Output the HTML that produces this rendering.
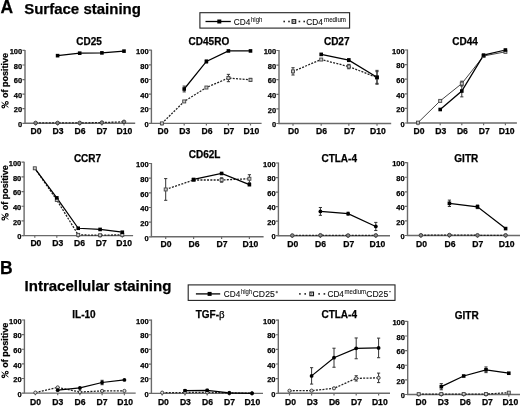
<!DOCTYPE html>
<html><head><meta charset="utf-8"><style>
html,body{margin:0;padding:0;background:#fff;width:520px;height:406px;overflow:hidden}
svg{display:block;filter:blur(0.35px)}
text{font-family:"Liberation Sans", sans-serif;fill:#000;stroke:#000;stroke-width:0.25px}
.yt{font-size:7.5px;font-weight:bold;text-anchor:end}
.xt{font-size:8.6px;font-weight:bold;text-anchor:middle}
.tt{font-size:10px;font-weight:bold;text-anchor:middle}
.yl{font-size:9px;font-weight:bold;text-anchor:middle}
.hd{font-size:17.5px;font-weight:bold}
.sh{font-size:15px;font-weight:bold}
.lg{fill:#111;stroke-width:0.12px}
.lg.s{stroke-width:0.08px}
.sup{font-size:6px}
</style></head><body>
<svg width="520" height="406" viewBox="0 0 520 406">
<text x="0.4" y="13.4" class="hd">A</text>
<text x="24.2" y="14.4" class="sh">Surface staining</text>
<text x="0" y="273.5" class="hd">B</text>
<text x="24.6" y="291" class="sh">Intracellular staining</text>
<path d="M25 49.9V123.3M24.2 123.3H135.2" stroke="#6a6a6a" stroke-width="1.4" fill="none"/>
<text x="22.2" y="127" class="yt">0</text>
<text x="22.2" y="112.42" class="yt">20</text>
<text x="22.2" y="97.84" class="yt">40</text>
<text x="22.2" y="83.26" class="yt">60</text>
<text x="22.2" y="68.68" class="yt">80</text>
<text x="22.2" y="54.1" class="yt">100</text>
<text x="36" y="134" class="xt">D0</text>
<text x="58.1" y="134" class="xt">D3</text>
<text x="80.1" y="134" class="xt">D6</text>
<text x="101.9" y="134" class="xt">D7</text>
<text x="124.5" y="134" class="xt">D10</text>
<path d="M22.4 123.3H25M22.4 108.72H25M22.4 94.14H25M22.4 79.56H25M22.4 64.98H25M22.4 50.4H25M35.6 123.3V125.5M57.6 123.3V125.5M79.7 123.3V125.5M101.9 123.3V125.5M124 123.3V125.5" stroke="#6a6a6a" stroke-width="1.2" fill="none"/>
<text x="89.1" y="44.6" class="tt">CD25</text>
<g transform="translate(8.2 80.85) rotate(-90)">
<text x="-17.26" y="0" class="yl" style="text-anchor:start">of positive</text>
<path d="M-26.46 0.2L-21.46 -6.6" stroke="#000" stroke-width="0.9" fill="none"/>
<circle cx="-25.76" cy="-4.9" r="1.35" stroke="#000" stroke-width="1.1" fill="none"/>
<circle cx="-22.06" cy="-1.45" r="1.35" stroke="#000" stroke-width="1.1" fill="none"/>
</g>
<polyline points="35.6,122.94 57.6,122.94 79.7,122.94 101.9,122.57 124,121.84" fill="none" stroke="#222" stroke-width="1.3" stroke-dasharray="2 1.3"/>
<polyline points="57.6,55.65 79.7,53.17 101.9,52.88 124,51.13" fill="none" stroke="#000" stroke-width="1.25"/>
<circle cx="35.6" cy="122.94" r="1.8" fill="#888" stroke="#333" stroke-width="0.9"/>
<circle cx="57.6" cy="122.94" r="1.8" fill="#888" stroke="#333" stroke-width="0.9"/>
<circle cx="79.7" cy="122.94" r="1.8" fill="#888" stroke="#333" stroke-width="0.9"/>
<circle cx="101.9" cy="122.57" r="1.8" fill="#888" stroke="#333" stroke-width="0.9"/>
<circle cx="124" cy="121.84" r="1.8" fill="#888" stroke="#333" stroke-width="0.9"/>
<rect x="55.8" y="53.85" width="3.6" height="3.6" fill="#000"/>
<rect x="77.9" y="51.37" width="3.6" height="3.6" fill="#000"/>
<rect x="100.1" y="51.08" width="3.6" height="3.6" fill="#000"/>
<rect x="122.2" y="49.33" width="3.6" height="3.6" fill="#000"/>
<path d="M151.4 49.7V123.4M150.6 123.4H261.6" stroke="#6a6a6a" stroke-width="1.4" fill="none"/>
<text x="148.6" y="127.1" class="yt">0</text>
<text x="148.6" y="112.46" class="yt">20</text>
<text x="148.6" y="97.82" class="yt">40</text>
<text x="148.6" y="83.18" class="yt">60</text>
<text x="148.6" y="68.54" class="yt">80</text>
<text x="148.6" y="53.9" class="yt">100</text>
<text x="163" y="134" class="xt">D0</text>
<text x="184.7" y="134" class="xt">D3</text>
<text x="207" y="134" class="xt">D6</text>
<text x="228.9" y="134" class="xt">D7</text>
<text x="251.5" y="134" class="xt">D10</text>
<path d="M148.8 123.4H151.4M148.8 108.76H151.4M148.8 94.12H151.4M148.8 79.48H151.4M148.8 64.84H151.4M148.8 50.2H151.4M161.9 123.4V125.6M184.2 123.4V125.6M206.4 123.4V125.6M228.4 123.4V125.6M250.5 123.4V125.6" stroke="#6a6a6a" stroke-width="1.2" fill="none"/>
<text x="208.9" y="45.3" class="tt">CD45RO</text>
<polyline points="161.9,123.4 184.2,101.44 206.4,87.53 228.4,78.02 250.5,79.85" fill="none" stroke="#222" stroke-width="1.3" stroke-dasharray="2 1.3"/>
<polyline points="184.2,89 206.4,61.47 228.4,50.93 250.5,50.93" fill="none" stroke="#000" stroke-width="1.25"/>
<path d="M228.4 74.36V81.68M226.8 74.36H230M226.8 81.68H230M250.5 78.38V81.31M248.9 78.38H252.1M248.9 81.31H252.1M184.2 86.07V91.92M182.6 86.07H185.8M182.6 91.92H185.8M206.4 60.01V62.94M204.8 60.01H208M204.8 62.94H208" stroke="#333" stroke-width="1" fill="none"/>
<rect x="160.4" y="121.9" width="3" height="3" fill="#ccc" stroke="#444" stroke-width="0.9"/>
<rect x="182.7" y="99.94" width="3" height="3" fill="#ccc" stroke="#444" stroke-width="0.9"/>
<rect x="204.9" y="86.03" width="3" height="3" fill="#ccc" stroke="#444" stroke-width="0.9"/>
<rect x="226.9" y="76.52" width="3" height="3" fill="#ccc" stroke="#444" stroke-width="0.9"/>
<rect x="249" y="78.35" width="3" height="3" fill="#ccc" stroke="#444" stroke-width="0.9"/>
<rect x="182.4" y="87.2" width="3.6" height="3.6" fill="#000"/>
<rect x="204.6" y="59.67" width="3.6" height="3.6" fill="#000"/>
<rect x="226.6" y="49.13" width="3.6" height="3.6" fill="#000"/>
<rect x="248.7" y="49.13" width="3.6" height="3.6" fill="#000"/>
<path d="M279 50V123.5M278.2 123.5H391.2" stroke="#6a6a6a" stroke-width="1.4" fill="none"/>
<text x="276.2" y="127.2" class="yt">0</text>
<text x="276.2" y="112.6" class="yt">20</text>
<text x="276.2" y="98" class="yt">40</text>
<text x="276.2" y="83.4" class="yt">60</text>
<text x="276.2" y="68.8" class="yt">80</text>
<text x="276.2" y="54.2" class="yt">100</text>
<text x="293.5" y="134" class="xt">D0</text>
<text x="321.6" y="134" class="xt">D6</text>
<text x="349.5" y="134" class="xt">D7</text>
<text x="378" y="134" class="xt">D10</text>
<path d="M276.4 123.5H279M276.4 108.9H279M276.4 94.3H279M276.4 79.7H279M276.4 65.1H279M276.4 50.5H279M293 123.5V125.7M321.2 123.5V125.7M348.8 123.5V125.7M377 123.5V125.7" stroke="#6a6a6a" stroke-width="1.2" fill="none"/>
<text x="336.7" y="45.3" class="tt">CD27</text>
<polyline points="293,71.38 321.2,59.55 348.8,66.56 377,77.51" fill="none" stroke="#222" stroke-width="1.3" stroke-dasharray="2 1.3"/>
<polyline points="321.2,54.37 348.8,60.14 377,77.29" fill="none" stroke="#000" stroke-width="1.25"/>
<path d="M293 67.73V75.03M291.4 67.73H294.6M291.4 75.03H294.6M348.8 64.37V68.75M347.2 64.37H350.4M347.2 68.75H350.4M377 71.67V83.35M375.4 71.67H378.6M375.4 83.35H378.6M348.8 58.68V61.6M347.2 58.68H350.4M347.2 61.6H350.4M377 70.36V84.23M375.4 70.36H378.6M375.4 84.23H378.6" stroke="#333" stroke-width="1" fill="none"/>
<rect x="291.5" y="69.88" width="3" height="3" fill="#ccc" stroke="#444" stroke-width="0.9"/>
<rect x="319.7" y="58.05" width="3" height="3" fill="#ccc" stroke="#444" stroke-width="0.9"/>
<rect x="347.3" y="65.06" width="3" height="3" fill="#ccc" stroke="#444" stroke-width="0.9"/>
<rect x="375.5" y="76.01" width="3" height="3" fill="#ccc" stroke="#444" stroke-width="0.9"/>
<rect x="319.4" y="52.57" width="3.6" height="3.6" fill="#000"/>
<rect x="347" y="58.34" width="3.6" height="3.6" fill="#000"/>
<rect x="375.2" y="75.49" width="3.6" height="3.6" fill="#000"/>
<path d="M407.4 49.5V123M406.6 123H516.9" stroke="#6a6a6a" stroke-width="1.4" fill="none"/>
<text x="404.6" y="126.7" class="yt">0</text>
<text x="404.6" y="112.1" class="yt">20</text>
<text x="404.6" y="97.5" class="yt">40</text>
<text x="404.6" y="82.9" class="yt">60</text>
<text x="404.6" y="68.3" class="yt">80</text>
<text x="404.6" y="53.7" class="yt">100</text>
<text x="419.1" y="134" class="xt">D0</text>
<text x="440.7" y="134" class="xt">D3</text>
<text x="462.4" y="134" class="xt">D6</text>
<text x="484.3" y="134" class="xt">D7</text>
<text x="506.7" y="134" class="xt">D10</text>
<path d="M404.8 123H407.4M404.8 108.4H407.4M404.8 93.8H407.4M404.8 79.2H407.4M404.8 64.6H407.4M404.8 50H407.4M418 123V125.2M440.2 123V125.2M461.8 123V125.2M483.6 123V125.2M505.4 123V125.2" stroke="#6a6a6a" stroke-width="1.2" fill="none"/>
<text x="465" y="45.3" class="tt">CD44</text>
<polyline points="418,122.64 440.2,100.88 461.8,83.58 483.6,55.99 505.4,51.83" fill="none" stroke="#444" stroke-width="1"/>
<polyline points="440.2,109.5 461.8,91.03 483.6,55.11 505.4,50" fill="none" stroke="#000" stroke-width="1.25"/>
<path d="M461.8 81.17V85.99M460.2 81.17H463.4M460.2 85.99H463.4M461.8 85.19V96.87M460.2 85.19H463.4M460.2 96.87H463.4" stroke="#333" stroke-width="1" fill="none"/>
<rect x="416.5" y="121.14" width="3" height="3" fill="#ccc" stroke="#444" stroke-width="0.9"/>
<rect x="438.7" y="99.38" width="3" height="3" fill="#ccc" stroke="#444" stroke-width="0.9"/>
<rect x="460.3" y="82.08" width="3" height="3" fill="#ccc" stroke="#444" stroke-width="0.9"/>
<rect x="482.1" y="54.49" width="3" height="3" fill="#ccc" stroke="#444" stroke-width="0.9"/>
<rect x="503.9" y="50.33" width="3" height="3" fill="#ccc" stroke="#444" stroke-width="0.9"/>
<rect x="438.4" y="107.7" width="3.6" height="3.6" fill="#000"/>
<rect x="460" y="89.23" width="3.6" height="3.6" fill="#000"/>
<rect x="481.8" y="53.31" width="3.6" height="3.6" fill="#000"/>
<rect x="503.6" y="48.2" width="3.6" height="3.6" fill="#000"/>
<path d="M24.1 161.7V235.6M23.3 235.6H133.1" stroke="#6a6a6a" stroke-width="1.4" fill="none"/>
<text x="21.3" y="239.3" class="yt">0</text>
<text x="21.3" y="224.62" class="yt">20</text>
<text x="21.3" y="209.94" class="yt">40</text>
<text x="21.3" y="195.26" class="yt">60</text>
<text x="21.3" y="180.58" class="yt">80</text>
<text x="21.3" y="165.9" class="yt">100</text>
<text x="35.9" y="246.4" class="xt">D0</text>
<text x="57.8" y="246.4" class="xt">D3</text>
<text x="79.6" y="246.4" class="xt">D6</text>
<text x="101.3" y="246.4" class="xt">D7</text>
<text x="124.1" y="246.4" class="xt">D10</text>
<path d="M21.5 235.6H24.1M21.5 220.92H24.1M21.5 206.24H24.1M21.5 191.56H24.1M21.5 176.88H24.1M21.5 162.2H24.1M34.8 235.6V237.8M56.8 235.6V237.8M78.2 235.6V237.8M100.1 235.6V237.8M122.3 235.6V237.8" stroke="#6a6a6a" stroke-width="1.2" fill="none"/>
<text x="87.5" y="161.7" class="tt">CCR7</text>
<g transform="translate(8.2 192.9) rotate(-90)">
<text x="-17.26" y="0" class="yl" style="text-anchor:start">of positive</text>
<path d="M-26.46 0.2L-21.46 -6.6" stroke="#000" stroke-width="0.9" fill="none"/>
<circle cx="-25.76" cy="-4.9" r="1.35" stroke="#000" stroke-width="1.1" fill="none"/>
<circle cx="-22.06" cy="-1.45" r="1.35" stroke="#000" stroke-width="1.1" fill="none"/>
</g>
<polyline points="34.8,168.29 56.8,199.93 78.2,234.87 100.1,235.23 122.3,234.87" fill="none" stroke="#222" stroke-width="1.3" stroke-dasharray="2 1.3"/>
<polyline points="34.8,168.29 56.8,197.87 78.2,228.26 100.1,229.43 122.3,232.22" fill="none" stroke="#000" stroke-width="1.25"/>
<rect x="33.3" y="166.79" width="3" height="3" fill="#ccc" stroke="#444" stroke-width="0.9"/>
<rect x="55.3" y="198.43" width="3" height="3" fill="#ccc" stroke="#444" stroke-width="0.9"/>
<rect x="76.7" y="233.37" width="3" height="3" fill="#ccc" stroke="#444" stroke-width="0.9"/>
<rect x="98.6" y="233.73" width="3" height="3" fill="#ccc" stroke="#444" stroke-width="0.9"/>
<rect x="120.8" y="233.37" width="3" height="3" fill="#ccc" stroke="#444" stroke-width="0.9"/>
<rect x="55" y="196.07" width="3.6" height="3.6" fill="#000"/>
<rect x="76.4" y="226.46" width="3.6" height="3.6" fill="#000"/>
<rect x="98.3" y="227.63" width="3.6" height="3.6" fill="#000"/>
<rect x="120.5" y="230.42" width="3.6" height="3.6" fill="#000"/>
<path d="M151.4 163V236.8M150.6 236.8H263.6" stroke="#6a6a6a" stroke-width="1.4" fill="none"/>
<text x="148.6" y="240.5" class="yt">0</text>
<text x="148.6" y="225.84" class="yt">20</text>
<text x="148.6" y="211.18" class="yt">40</text>
<text x="148.6" y="196.52" class="yt">60</text>
<text x="148.6" y="181.86" class="yt">80</text>
<text x="148.6" y="167.2" class="yt">100</text>
<text x="166" y="247.2" class="xt">D0</text>
<text x="194.1" y="247.2" class="xt">D6</text>
<text x="222.1" y="247.2" class="xt">D7</text>
<text x="250.4" y="247.2" class="xt">D10</text>
<path d="M148.8 236.8H151.4M148.8 222.14H151.4M148.8 207.48H151.4M148.8 192.82H151.4M148.8 178.16H151.4M148.8 163.5H151.4M165.7 236.8V239M193.6 236.8V239M221.6 236.8V239M249.4 236.8V239" stroke="#6a6a6a" stroke-width="1.2" fill="none"/>
<text x="204.6" y="158.3" class="tt">CD62L</text>
<polyline points="165.7,189.45 193.6,179.99 221.6,179.99 249.4,178.75" fill="none" stroke="#222" stroke-width="1.3" stroke-dasharray="2 1.3"/>
<polyline points="193.6,179.48 221.6,173.47 249.4,184.68" fill="none" stroke="#000" stroke-width="1.25"/>
<path d="M165.7 178.6V200.3M164.1 178.6H167.3M164.1 200.3H167.3M221.6 177.79V182.19M220 177.79H223.2M220 182.19H223.2M249.4 174.71V182.78M247.8 174.71H251M247.8 182.78H251" stroke="#333" stroke-width="1" fill="none"/>
<rect x="164.2" y="187.95" width="3" height="3" fill="#ccc" stroke="#444" stroke-width="0.9"/>
<rect x="192.1" y="178.49" width="3" height="3" fill="#ccc" stroke="#444" stroke-width="0.9"/>
<rect x="220.1" y="178.49" width="3" height="3" fill="#ccc" stroke="#444" stroke-width="0.9"/>
<rect x="247.9" y="177.25" width="3" height="3" fill="#ccc" stroke="#444" stroke-width="0.9"/>
<rect x="191.8" y="177.68" width="3.6" height="3.6" fill="#000"/>
<rect x="219.8" y="171.67" width="3.6" height="3.6" fill="#000"/>
<rect x="247.6" y="182.88" width="3.6" height="3.6" fill="#000"/>
<path d="M278.4 162.5V235.7M277.6 235.7H390" stroke="#6a6a6a" stroke-width="1.4" fill="none"/>
<text x="275.6" y="239.4" class="yt">0</text>
<text x="275.6" y="224.86" class="yt">20</text>
<text x="275.6" y="210.32" class="yt">40</text>
<text x="275.6" y="195.78" class="yt">60</text>
<text x="275.6" y="181.24" class="yt">80</text>
<text x="275.6" y="166.7" class="yt">100</text>
<text x="292.7" y="246.6" class="xt">D0</text>
<text x="320.6" y="246.6" class="xt">D6</text>
<text x="348.8" y="246.6" class="xt">D7</text>
<text x="377.4" y="246.6" class="xt">D10</text>
<path d="M275.8 235.7H278.4M275.8 221.16H278.4M275.8 206.62H278.4M275.8 192.08H278.4M275.8 177.54H278.4M275.8 163H278.4M292.3 235.7V237.9M320.4 235.7V237.9M348.1 235.7V237.9M375.8 235.7V237.9" stroke="#6a6a6a" stroke-width="1.2" fill="none"/>
<text x="339.2" y="161.7" class="tt">CTLA-4</text>
<polyline points="292.3,235.48 320.4,235.26 348.1,235.48 375.8,235.34" fill="none" stroke="#222" stroke-width="1.3" stroke-dasharray="2 1.3"/>
<polyline points="320.4,211.42 348.1,213.67 375.8,226.47" fill="none" stroke="#000" stroke-width="1.25"/>
<path d="M320.4 207.49V215.34M318.8 207.49H322M318.8 215.34H322M348.1 212.22V215.13M346.5 212.22H349.7M346.5 215.13H349.7M375.8 222.4V230.54M374.2 222.4H377.4M374.2 230.54H377.4" stroke="#333" stroke-width="1" fill="none"/>
<circle cx="292.3" cy="235.48" r="1.8" fill="#888" stroke="#333" stroke-width="0.9"/>
<circle cx="320.4" cy="235.26" r="1.8" fill="#888" stroke="#333" stroke-width="0.9"/>
<circle cx="348.1" cy="235.48" r="1.8" fill="#888" stroke="#333" stroke-width="0.9"/>
<circle cx="375.8" cy="235.34" r="1.8" fill="#888" stroke="#333" stroke-width="0.9"/>
<circle cx="320.4" cy="211.42" r="1.9" fill="#000"/>
<circle cx="348.1" cy="213.67" r="1.9" fill="#000"/>
<circle cx="375.8" cy="226.47" r="1.9" fill="#000"/>
<path d="M407.5 162.2V235.5M406.7 235.5H520" stroke="#6a6a6a" stroke-width="1.4" fill="none"/>
<text x="404.7" y="239.2" class="yt">0</text>
<text x="404.7" y="224.64" class="yt">20</text>
<text x="404.7" y="210.08" class="yt">40</text>
<text x="404.7" y="195.52" class="yt">60</text>
<text x="404.7" y="180.96" class="yt">80</text>
<text x="404.7" y="166.4" class="yt">100</text>
<text x="421.5" y="246.8" class="xt">D0</text>
<text x="450.1" y="246.8" class="xt">D6</text>
<text x="477.7" y="246.8" class="xt">D7</text>
<text x="506.7" y="246.8" class="xt">D10</text>
<path d="M404.9 235.5H407.5M404.9 220.94H407.5M404.9 206.38H407.5M404.9 191.82H407.5M404.9 177.26H407.5M404.9 162.7H407.5M420.9 235.5V237.7M449.4 235.5V237.7M477.5 235.5V237.7M505.6 235.5V237.7" stroke="#6a6a6a" stroke-width="1.2" fill="none"/>
<text x="466.3" y="161.7" class="tt">GITR</text>
<polyline points="420.9,235.28 449.4,235.06 477.5,235.28 505.6,235.28" fill="none" stroke="#222" stroke-width="1.3" stroke-dasharray="2 1.3"/>
<polyline points="449.4,203.32 477.5,206.82 505.6,228.58" fill="none" stroke="#000" stroke-width="1.25"/>
<path d="M449.4 200.12V206.53M447.8 200.12H451M447.8 206.53H451M477.5 205V208.64M475.9 205H479.1M475.9 208.64H479.1" stroke="#333" stroke-width="1" fill="none"/>
<circle cx="420.9" cy="235.28" r="1.8" fill="#888" stroke="#333" stroke-width="0.9"/>
<circle cx="449.4" cy="235.06" r="1.8" fill="#888" stroke="#333" stroke-width="0.9"/>
<circle cx="477.5" cy="235.28" r="1.8" fill="#888" stroke="#333" stroke-width="0.9"/>
<circle cx="505.6" cy="235.28" r="1.8" fill="#888" stroke="#333" stroke-width="0.9"/>
<rect x="447.6" y="201.52" width="3.6" height="3.6" fill="#000"/>
<rect x="475.7" y="205.02" width="3.6" height="3.6" fill="#000"/>
<rect x="503.8" y="226.78" width="3.6" height="3.6" fill="#000"/>
<path d="M24.4 319.5V393.1M23.6 393.1H135.7" stroke="#6a6a6a" stroke-width="1.4" fill="none"/>
<text x="21.6" y="396.8" class="yt">0</text>
<text x="21.6" y="382.18" class="yt">20</text>
<text x="21.6" y="367.56" class="yt">40</text>
<text x="21.6" y="352.94" class="yt">60</text>
<text x="21.6" y="338.32" class="yt">80</text>
<text x="21.6" y="323.7" class="yt">100</text>
<text x="35.6" y="404.8" class="xt">D0</text>
<text x="57.7" y="404.8" class="xt">D3</text>
<text x="80.1" y="404.8" class="xt">D6</text>
<text x="102" y="404.8" class="xt">D7</text>
<text x="125.2" y="404.8" class="xt">D10</text>
<path d="M21.8 393.1H24.4M21.8 378.48H24.4M21.8 363.86H24.4M21.8 349.24H24.4M21.8 334.62H24.4M21.8 320H24.4M35.4 393.1V395.3M57.7 393.1V395.3M79.9 393.1V395.3M102.1 393.1V395.3M124.4 393.1V395.3" stroke="#6a6a6a" stroke-width="1.2" fill="none"/>
<text x="84" y="318.3" class="tt">IL-10</text>
<g transform="translate(8.2 350.55) rotate(-90)">
<text x="-17.26" y="0" class="yl" style="text-anchor:start">of positive</text>
<path d="M-26.46 0.2L-21.46 -6.6" stroke="#000" stroke-width="0.9" fill="none"/>
<circle cx="-25.76" cy="-4.9" r="1.35" stroke="#000" stroke-width="1.1" fill="none"/>
<circle cx="-22.06" cy="-1.45" r="1.35" stroke="#000" stroke-width="1.1" fill="none"/>
</g>
<polyline points="35.4,392.59 57.7,387.4 79.9,392 102.1,390.91 124.4,390.91" fill="none" stroke="#222" stroke-width="1.3" stroke-dasharray="2 1.3"/>
<polyline points="57.7,390.18 79.9,387.98 102.1,382.5 124.4,379.94" fill="none" stroke="#000" stroke-width="1.25"/>
<path d="M102.1 380.31V384.69M100.5 380.31H103.7M100.5 384.69H103.7" stroke="#333" stroke-width="1" fill="none"/>
<circle cx="35.4" cy="392.59" r="1.6" fill="#ddd" stroke="#333" stroke-width="0.9"/>
<circle cx="57.7" cy="387.4" r="1.6" fill="#ddd" stroke="#333" stroke-width="0.9"/>
<circle cx="79.9" cy="392" r="1.6" fill="#ddd" stroke="#333" stroke-width="0.9"/>
<circle cx="102.1" cy="390.91" r="1.6" fill="#ddd" stroke="#333" stroke-width="0.9"/>
<circle cx="124.4" cy="390.91" r="1.6" fill="#ddd" stroke="#333" stroke-width="0.9"/>
<circle cx="57.7" cy="390.18" r="1.9" fill="#000"/>
<circle cx="79.9" cy="387.98" r="1.9" fill="#000"/>
<circle cx="102.1" cy="382.5" r="1.9" fill="#000"/>
<circle cx="124.4" cy="379.94" r="1.9" fill="#000"/>
<path d="M151.4 319.6V393.4M150.6 393.4H263" stroke="#6a6a6a" stroke-width="1.4" fill="none"/>
<text x="148.6" y="397.1" class="yt">0</text>
<text x="148.6" y="382.44" class="yt">20</text>
<text x="148.6" y="367.78" class="yt">40</text>
<text x="148.6" y="353.12" class="yt">60</text>
<text x="148.6" y="338.46" class="yt">80</text>
<text x="148.6" y="323.8" class="yt">100</text>
<text x="163.4" y="404.8" class="xt">D0</text>
<text x="185.4" y="404.8" class="xt">D3</text>
<text x="207.5" y="404.8" class="xt">D6</text>
<text x="229.6" y="404.8" class="xt">D7</text>
<text x="252.3" y="404.8" class="xt">D10</text>
<path d="M148.8 393.4H151.4M148.8 378.74H151.4M148.8 364.08H151.4M148.8 349.42H151.4M148.8 334.76H151.4M148.8 320.1H151.4M162.2 393.4V395.6M185 393.4V395.6M207.2 393.4V395.6M229.3 393.4V395.6M252 393.4V395.6" stroke="#6a6a6a" stroke-width="1.2" fill="none"/>
<text x="210.2" y="318.3" class="tt">TGF-<tspan font-family="Liberation Serif" font-weight="normal" font-size="11">β</tspan></text>
<polyline points="162.2,392.67 185,392.52 207.2,392.37 229.3,392.96 252,393.18" fill="none" stroke="#222" stroke-width="1.3" stroke-dasharray="2 1.3"/>
<polyline points="185,390.61 207.2,390.32 229.3,392.96 252,393.33" fill="none" stroke="#000" stroke-width="1.25"/>
<path d="M185 389.52V391.71M183.4 389.52H186.6M183.4 391.71H186.6M207.2 389.22V391.42M205.6 389.22H208.8M205.6 391.42H208.8" stroke="#333" stroke-width="1" fill="none"/>
<circle cx="162.2" cy="392.67" r="1.6" fill="#ddd" stroke="#333" stroke-width="0.9"/>
<circle cx="185" cy="392.52" r="1.6" fill="#ddd" stroke="#333" stroke-width="0.9"/>
<circle cx="207.2" cy="392.37" r="1.6" fill="#ddd" stroke="#333" stroke-width="0.9"/>
<circle cx="229.3" cy="392.96" r="1.6" fill="#ddd" stroke="#333" stroke-width="0.9"/>
<circle cx="252" cy="393.18" r="1.6" fill="#ddd" stroke="#333" stroke-width="0.9"/>
<circle cx="185" cy="390.61" r="1.9" fill="#000"/>
<circle cx="207.2" cy="390.32" r="1.9" fill="#000"/>
<circle cx="229.3" cy="392.96" r="1.9" fill="#000"/>
<circle cx="252" cy="393.33" r="1.9" fill="#000"/>
<path d="M278.3 319.6V393.3M277.5 393.3H390" stroke="#6a6a6a" stroke-width="1.4" fill="none"/>
<text x="275.5" y="397" class="yt">0</text>
<text x="275.5" y="382.36" class="yt">20</text>
<text x="275.5" y="367.72" class="yt">40</text>
<text x="275.5" y="353.08" class="yt">60</text>
<text x="275.5" y="338.44" class="yt">80</text>
<text x="275.5" y="323.8" class="yt">100</text>
<text x="290.5" y="404.8" class="xt">D0</text>
<text x="312.3" y="404.8" class="xt">D3</text>
<text x="334.4" y="404.8" class="xt">D6</text>
<text x="356.5" y="404.8" class="xt">D7</text>
<text x="379.8" y="404.8" class="xt">D10</text>
<path d="M275.7 393.3H278.3M275.7 378.66H278.3M275.7 364.02H278.3M275.7 349.38H278.3M275.7 334.74H278.3M275.7 320.1H278.3M289.5 393.3V395.5M311.6 393.3V395.5M334 393.3V395.5M356.2 393.3V395.5M378.6 393.3V395.5" stroke="#6a6a6a" stroke-width="1.2" fill="none"/>
<text x="339.2" y="318.3" class="tt">CTLA-4</text>
<polyline points="289.5,390.74 311.6,390.66 334,388.32 356.2,378.37 378.6,377.85" fill="none" stroke="#222" stroke-width="1.3" stroke-dasharray="2 1.3"/>
<polyline points="311.6,375.88 334,357.72 356.2,348.36 378.6,347.92" fill="none" stroke="#000" stroke-width="1.25"/>
<path d="M356.2 375.73V381M354.6 375.73H357.8M354.6 381H357.8M378.6 373.1V382.61M377 373.1H380.2M377 382.61H380.2M311.6 367.68V384.08M310 367.68H313.2M310 384.08H313.2M334 348.21V367.24M332.4 348.21H335.6M332.4 367.24H335.6M356.2 337.96V358.75M354.6 337.96H357.8M354.6 358.75H357.8M378.6 338.11V357.72M377 338.11H380.2M377 357.72H380.2" stroke="#333" stroke-width="1" fill="none"/>
<circle cx="289.5" cy="390.74" r="1.6" fill="#ddd" stroke="#333" stroke-width="0.9"/>
<circle cx="311.6" cy="390.66" r="1.6" fill="#ddd" stroke="#333" stroke-width="0.9"/>
<circle cx="334" cy="388.32" r="1.6" fill="#ddd" stroke="#333" stroke-width="0.9"/>
<circle cx="356.2" cy="378.37" r="1.6" fill="#ddd" stroke="#333" stroke-width="0.9"/>
<circle cx="378.6" cy="377.85" r="1.6" fill="#ddd" stroke="#333" stroke-width="0.9"/>
<circle cx="311.6" cy="375.88" r="1.9" fill="#000"/>
<circle cx="334" cy="357.72" r="1.9" fill="#000"/>
<circle cx="356.2" cy="348.36" r="1.9" fill="#000"/>
<circle cx="378.6" cy="347.92" r="1.9" fill="#000"/>
<path d="M407.7 320.9V394.5M406.9 394.5H520" stroke="#6a6a6a" stroke-width="1.4" fill="none"/>
<text x="404.9" y="398.2" class="yt">0</text>
<text x="404.9" y="383.58" class="yt">20</text>
<text x="404.9" y="368.96" class="yt">40</text>
<text x="404.9" y="354.34" class="yt">60</text>
<text x="404.9" y="339.72" class="yt">80</text>
<text x="404.9" y="325.1" class="yt">100</text>
<text x="421" y="405.3" class="xt">D0</text>
<text x="443.2" y="405.3" class="xt">D3</text>
<text x="465.3" y="405.3" class="xt">D6</text>
<text x="487.4" y="405.3" class="xt">D7</text>
<text x="510.3" y="405.3" class="xt">D10</text>
<path d="M405.1 394.5H407.7M405.1 379.88H407.7M405.1 365.26H407.7M405.1 350.64H407.7M405.1 336.02H407.7M405.1 321.4H407.7M418.7 394.5V396.7M441.3 394.5V396.7M463.7 394.5V396.7M486 394.5V396.7M508.8 394.5V396.7" stroke="#6a6a6a" stroke-width="1.2" fill="none"/>
<text x="466.7" y="319.3" class="tt">GITR</text>
<polyline points="418.7,394.13 441.3,394.06 463.7,394.06 486,394.06 508.8,392.67" fill="none" stroke="#222" stroke-width="1.3" stroke-dasharray="2 1.3"/>
<polyline points="441.3,386.68 463.7,376.01 486,369.79 508.8,373.23" fill="none" stroke="#000" stroke-width="1.25"/>
<path d="M441.3 383.61V389.75M439.7 383.61H442.9M439.7 389.75H442.9M486 366.94V372.64M484.4 366.94H487.6M484.4 372.64H487.6" stroke="#333" stroke-width="1" fill="none"/>
<rect x="417.2" y="392.63" width="3" height="3" fill="#ccc" stroke="#444" stroke-width="0.9"/>
<rect x="439.8" y="392.56" width="3" height="3" fill="#ccc" stroke="#444" stroke-width="0.9"/>
<rect x="462.2" y="392.56" width="3" height="3" fill="#ccc" stroke="#444" stroke-width="0.9"/>
<rect x="484.5" y="392.56" width="3" height="3" fill="#ccc" stroke="#444" stroke-width="0.9"/>
<rect x="507.3" y="391.17" width="3" height="3" fill="#ccc" stroke="#444" stroke-width="0.9"/>
<rect x="439.5" y="384.88" width="3.6" height="3.6" fill="#000"/>
<rect x="461.9" y="374.21" width="3.6" height="3.6" fill="#000"/>
<rect x="484.2" y="367.99" width="3.6" height="3.6" fill="#000"/>
<rect x="507" y="371.43" width="3.6" height="3.6" fill="#000"/>
<rect x="199.9" y="12.7" width="149.7" height="15.4" fill="#fff" stroke="#222" stroke-width="1.1"/>
<path d="M205.5 21.5H230.8" stroke="#000" stroke-width="1.3"/>
<rect x="217.3" y="19.5" width="4" height="4" fill="#000"/>
<rect x="283.4" y="20.7" width="1.6" height="1.6" fill="#222"/>
<rect x="288.2" y="20.7" width="1.6" height="1.6" fill="#222"/>
<rect x="298.6" y="20.7" width="1.6" height="1.6" fill="#222"/>
<rect x="303.4" y="20.7" width="1.6" height="1.6" fill="#222"/>
<rect x="292.1" y="19.7" width="3.6" height="3.6" fill="#fff" stroke="#111" stroke-width="1.1"/>
<rect x="293.3" y="20.9" width="1.2" height="1.2" fill="#333"/>
<text x="233.8" y="24.6" class="lg" font-size="9.5" textLength="16.5" lengthAdjust="spacingAndGlyphs">CD4</text>
<text x="251" y="21.7" class="lg s" font-size="6.5" textLength="11.4" lengthAdjust="spacingAndGlyphs">high</text>
<text x="306.3" y="24.8" class="lg" font-size="9.5" textLength="16.6" lengthAdjust="spacingAndGlyphs">CD4</text>
<text x="324" y="21.6" class="lg s" font-size="6.5" textLength="22" lengthAdjust="spacingAndGlyphs">medium</text>
<rect x="188.2" y="284.9" width="206.8" height="15.5" fill="#fff" stroke="#222" stroke-width="1.1"/>
<path d="M195.9 293.9H220.2" stroke="#000" stroke-width="1.3"/>
<rect x="207.6" y="291.9" width="4" height="4" fill="#000"/>
<rect x="299.1" y="293.1" width="1.6" height="1.6" fill="#222"/>
<rect x="304.4" y="293.1" width="1.6" height="1.6" fill="#222"/>
<rect x="318.3" y="293.1" width="1.6" height="1.6" fill="#222"/>
<rect x="323.6" y="293.1" width="1.6" height="1.6" fill="#222"/>
<rect x="309.9" y="292.1" width="3.6" height="3.6" fill="#fff" stroke="#111" stroke-width="1.1"/>
<rect x="311.1" y="293.3" width="1.2" height="1.2" fill="#333"/>
<text x="223.8" y="296.9" class="lg" font-size="9.2" textLength="16.4" lengthAdjust="spacingAndGlyphs">CD4</text>
<text x="240.9" y="294.1" class="lg s" font-size="6.5" textLength="11.2" lengthAdjust="spacingAndGlyphs">high</text>
<text x="252.6" y="296.9" class="lg" font-size="9.2" textLength="22.2" lengthAdjust="spacingAndGlyphs">CD25</text>
<text x="327.4" y="296.9" class="lg" font-size="9.2" textLength="16.6" lengthAdjust="spacingAndGlyphs">CD4</text>
<text x="344.6" y="294.1" class="lg s" font-size="6.5" textLength="21.4" lengthAdjust="spacingAndGlyphs">medium</text>
<text x="366.2" y="296.9" class="lg" font-size="9.2" textLength="22" lengthAdjust="spacingAndGlyphs">CD25</text>
<path d="M275.6 292.1H278M276.8 290.9V293.3M389 291.7H391" stroke="#333" stroke-width="0.8" fill="none"/>
</svg>
</body></html>
